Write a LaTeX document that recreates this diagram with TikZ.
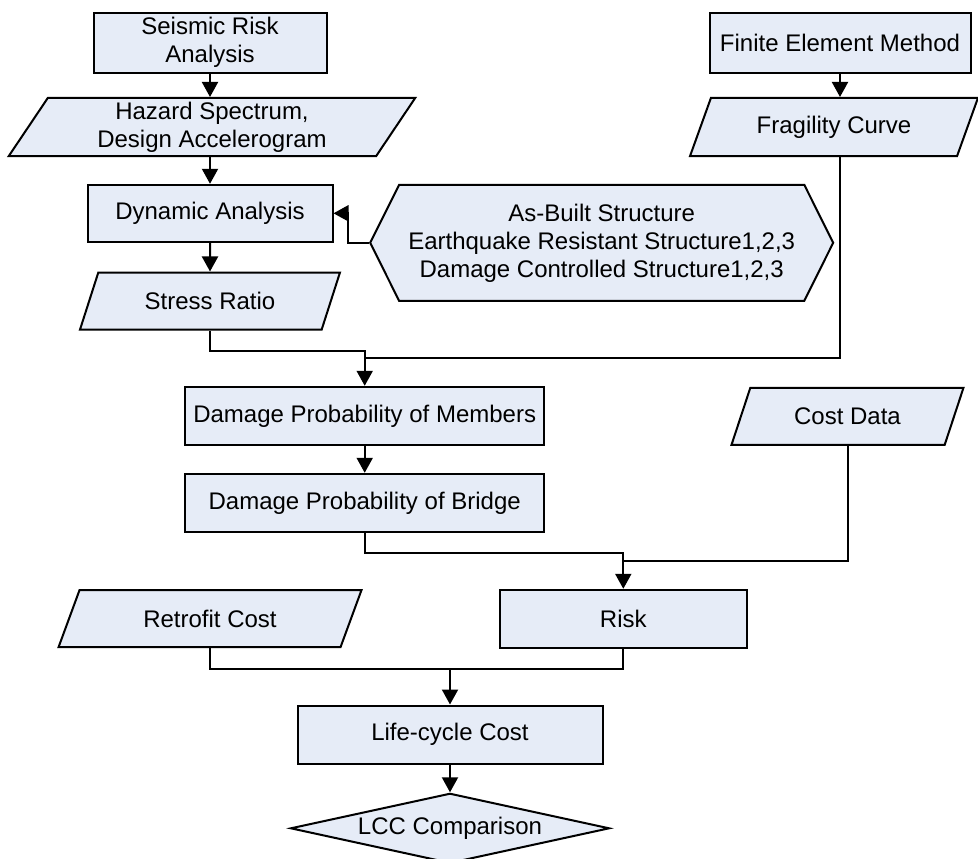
\documentclass[tikz,border=0pt]{standalone}
\usepackage{fontspec}
\setmainfont{Liberation Sans}
\usetikzlibrary{shapes.geometric, shapes.symbols, arrows.meta}
\definecolor{boxfill}{RGB}{230,236,247}

\begin{document}
\begin{tikzpicture}[x=1pt, y=-1pt, line width=2pt,
    every node/.style={draw, fill=boxfill, align=center, inner sep=2pt, font=\fontsize{24}{28}\selectfont},
    proc/.style={rectangle},
    io/.style={trapezium, trapezium left angle=63, trapezium right angle=117, trapezium stretches=true},
    arr/.style={-{Triangle[length=15pt,width=16pt]}}]
        \useasboundingbox (0,0) rectangle (978,859);

        \node[proc, minimum width=233pt, minimum height=60pt] (SRA) at (210,42.7) {Seismic Risk\\Analysis};
        \node[io, minimum width=408pt, minimum height=58pt] (HAZ) at (212,127) {Hazard Spectrum,\\Design Accelerogram};
        \node[proc, minimum width=245pt, minimum height=57pt] (DYN) at (210,213.3) {Dynamic Analysis};
        \node[io, minimum width=260pt, minimum height=57pt] (STR) at (210,301) {Stress Ratio};
        \node[signal, signal to=west and east, signal pointer angle=127, minimum width=463pt, minimum height=116pt] (STRUCT) at (601.7,242.8)
            {As-Built Structure\\Earthquake Resistant Structure1,2,3\\Damage Controlled Structure1,2,3};

        \node[proc, minimum width=261pt, minimum height=60pt] (FEM) at (840,42.7) {Finite Element Method};
        \node[io, minimum width=288pt, minimum height=58pt] (FRAG) at (834,127) {Fragility Curve};

        \node[proc, minimum width=359pt, minimum height=58pt] (DPM) at (364.7,415.8) {Damage Probability of Members};
        \node[io, minimum width=232pt, minimum height=57pt] (COST) at (847.5,416.3) {Cost Data};
        \node[proc, minimum width=359pt, minimum height=58pt] (DPB) at (364.7,502.8) {Damage Probability of Bridge};

        \node[io, minimum width=303pt, minimum height=57pt] (RETRO) at (210,618.7) {Retrofit Cost};
        \node[proc, minimum width=247pt, minimum height=58pt] (RISK) at (623.3,618.8) {Risk};
        \node[proc, minimum width=305pt, minimum height=58pt] (LCC) at (450,734.5) {Life-cycle Cost};
        \node[diamond, aspect=4.5, inner sep=0pt, minimum width=319pt, minimum height=70pt] (CMP) at (450,828.3) {LCC Comparison};

        \coordinate (J1) at (364.7,350.7);
        \coordinate (J2) at (364.7,358.3);
        \coordinate (J3) at (623.3,553.3);
        \coordinate (J4) at (623.3,561);
        \coordinate (J5) at (450,669.3);

        \draw[arr] (SRA.south) -- (SRA.south |- HAZ.north);
        \draw[arr] (DYN.north |- HAZ.south) -- (DYN.north);
        \draw[arr] (DYN) -- (STR);
        \draw[arr] (STRUCT.west) -- ++(-21,0) |- (DYN.east);
        \draw[arr] (FEM.south) -- (FEM.south |- FRAG.north);

        \draw[arr] (STR.south) |- (J1) -- (DPM.north);
        \draw (FEM.south |- FRAG.south) |- (J2);
        \draw[arr] (DPM) -- (DPB);

        \draw[arr] (DPB.south) |- (J3) -- (RISK.north);
        \draw (COST.south) |- (J4);

        \draw[arr] (RETRO.south) |- (J5) -- (LCC.north);
        \draw (RISK.south) |- (J5);
        \draw[arr] (LCC) -- (CMP);
\end{tikzpicture}
\end{document}
